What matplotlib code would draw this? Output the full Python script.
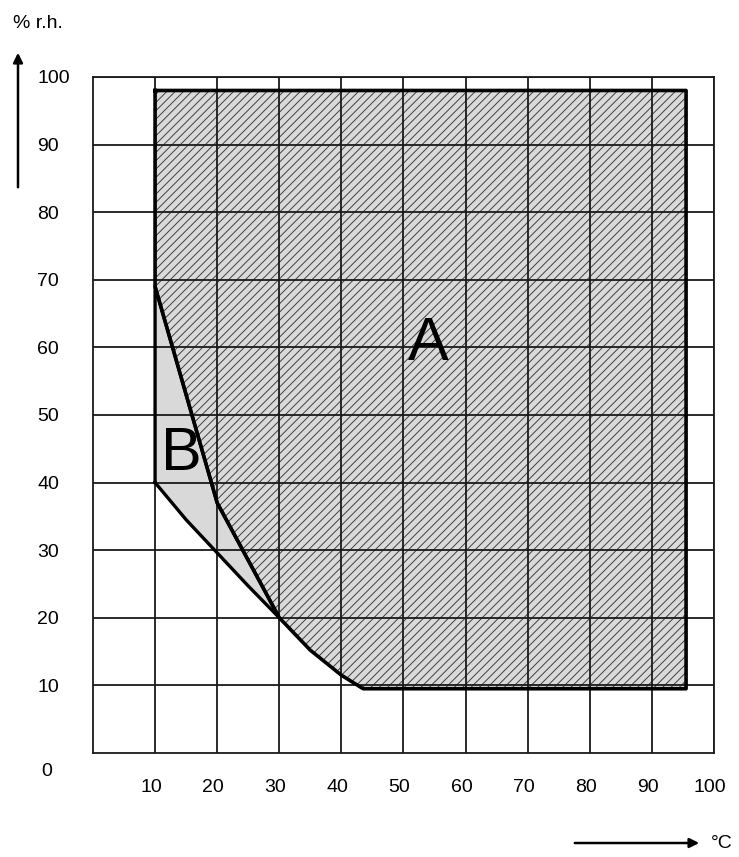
import matplotlib.pyplot as plt
from matplotlib.patches import FancyArrowPatch
from matplotlib.transforms import blended_transform_factory, ScaledTranslation

plt.rcParams['font.family'] = ['Liberation Sans', 'DejaVu Sans']
plt.rcParams['hatch.linewidth'] = 0.7

temp_ticks = [10, 20, 30, 40, 50, 60, 70, 80, 90, 100]
rh_ticks = [10, 20, 30, 40, 50, 60, 70, 80, 90, 100]

# zone A outline (°C, % r.h.)
zone_a_t = [10, 95.5, 95.5, 43.5, 40, 35, 30, 25, 20, 10, 10]
zone_a_rh = [98, 98, 9.5, 9.5, 11.5, 15.2, 20, 28.5, 37, 69, 98]

# zone B outline
zone_b_t = [10, 10, 20, 30, 25, 20, 15, 10]
zone_b_rh = [40, 69, 37, 20, 24.7, 29.6, 34.5, 40]

fig = plt.figure(figsize=(7.39, 8.57), dpi=100)
ax = fig.add_axes([0.1258, 0.1214, 0.8404, 0.7888])

ax.fill(zone_a_t, zone_a_rh, facecolor='#dadada', edgecolor='#404040',
        hatch='////', linewidth=0, zorder=1)
ax.fill(zone_b_t, zone_b_rh, facecolor='#d9d9d9', linewidth=0, zorder=1)

ax.plot(zone_a_t, zone_a_rh, color='black', lw=2.6, zorder=3, solid_joinstyle='round')
ax.plot(zone_b_t, zone_b_rh, color='black', lw=2.4, zorder=3, solid_joinstyle='round')

ax.set_xlim(0, 100)
ax.set_ylim(0, 100)
ax.set_xticks(temp_ticks)
ax.set_yticks(rh_ticks)
ax.set_xticklabels([str(t) for t in temp_ticks])
ax.set_yticklabels([str(r) for r in rh_ticks])
ax.tick_params(length=0, labelsize=14)
ax.tick_params(axis='x', pad=19)
ax.tick_params(axis='y', pad=40)
for lab in ax.get_yticklabels():
    lab.set_ha('left')
shift = ScaledTranslation(-4 / 100, 0, fig.dpi_scale_trans)
for lab in ax.get_xticklabels():
    lab.set_transform(lab.get_transform() + shift)

ax.set_axisbelow(False)
ax.grid(True, color='#1a1a1a', lw=1.3)
for s in ax.spines.values():
    s.set_linewidth(1.3)
    s.set_color('#1a1a1a')

# the lone 0 in the corner
tr = blended_transform_factory(fig.transFigure, ax.transData)
ax.text(47 / 739, -2.8, '0', transform=tr, fontsize=14, ha='center', va='center')

ax.text(54, 60.4, 'A', fontsize=44, ha='center', va='center', zorder=4)
ax.text(14.2, 44.2, 'B', fontsize=44, ha='center', va='center', zorder=4)

# axis titles with arrows
fig.text(13 / 739, 1 - 24 / 857, '% r.h.', fontsize=14, ha='left', va='center')
fig.add_artist(FancyArrowPatch(
    (18 / 739, 1 - 190 / 857), (18 / 739, 1 - 50 / 857), transform=fig.transFigure,
    arrowstyle='-|>', mutation_scale=14, lw=1.8, color='black'))
fig.add_artist(FancyArrowPatch(
    (572 / 739, 1 - 843 / 857), (702 / 739, 1 - 843 / 857), transform=fig.transFigure,
    arrowstyle='-|>', mutation_scale=14, lw=1.8, color='black'))
fig.text(722 / 739, 1 - 843 / 857, '°C', fontsize=14, ha='center', va='center')

fig.savefig('out.png', dpi=100)
